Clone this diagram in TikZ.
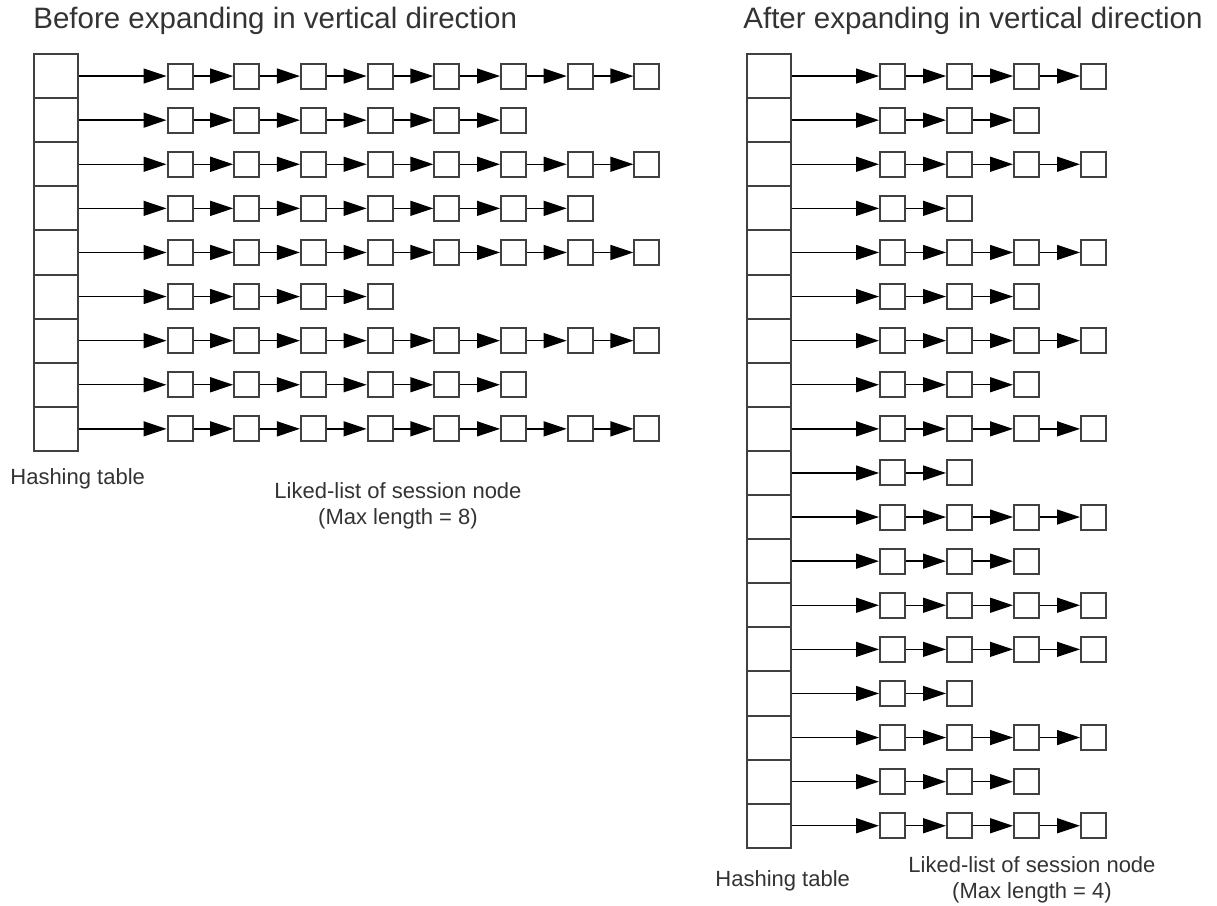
\documentclass[tikz,border=0pt]{standalone}
\usepackage{fontspec}
\setmainfont{Liberation Sans}
\usetikzlibrary{arrows.meta}

\tikzset{
  cell/.style={draw=black!75, line width=1pt, minimum width=22pt, minimum height=22.05pt, inner sep=0pt},
  session/.style={draw=black!75, line width=1pt, fill=white, minimum size=12.5pt, inner sep=0pt},
  link/.style={line width=0.7pt, -{Triangle[length=11.5pt,width=7.5pt]}},
  title/.style={anchor=base west, inner sep=0pt, text=black!80, font=\fontsize{14.75}{17}\selectfont},
  caption/.style={inner sep=0pt, text=black!80, align=center, font=\fontsize{11}{13}\selectfont},
}

\begin{document}
\begin{tikzpicture}[x=0.5pt,y=-0.5pt]
          \useasboundingbox (0,0) rectangle (1217,906);
          \node[title] (before) at (33,28) {Before expanding in vertical direction};
          \node[title] (after) at (743,28) {After expanding in vertical direction};
          % before: 9 buckets, lists up to 8 nodes
          \foreach \n [count=\r] in {8,6,8,7,8,4,8,6,8} {
            \node[cell] (B\r) at (56,{54+44.1*(\r-0.5)}) {};
            \foreach \k in {1,...,\n}
              \node[session] (B\r-\k) at ({180+66.7*(\k-1)},{54+44.1*(\r-0.5)}) {};
            \draw[link] (B\r.east) -- (B\r-1);
            \foreach \k [evaluate=\k as \j using int(\k-1)] in {2,...,\n}
              \draw[link] (B\r-\j) -- (B\r-\k);
          }
          % after: 18 buckets, lists up to 4 nodes
          \foreach \n [count=\r] in {4,3,4,2,4,3,4,3,4,2,4,3,4,4,2,4,3,4} {
            \node[cell] (A\r) at (769,{54+44.1*(\r-0.5)}) {};
            \foreach \k in {1,...,\n}
              \node[session] (A\r-\k) at ({892.5+67*(\k-1)},{54+44.1*(\r-0.5)}) {};
            \draw[link] (A\r.east) -- (A\r-1);
            \foreach \k [evaluate=\k as \j using int(\k-1)] in {2,...,\n}
              \draw[link] (A\r-\j) -- (A\r-\k);
          }
          % captions (base anchor sits on the last line)
          \node[caption,anchor=base west] (Bhash) at (10,484) {Hashing table};
          \node[caption,anchor=base] (Blist) at (398,524) {Liked-list of session node\\(Max length = 8)};
          \node[caption,anchor=base west] (Ahash) at (715,886) {Hashing table};
          \node[caption,anchor=base] (Alist) at (1032,898) {Liked-list of session node\\(Max length = 4)};
        \end{tikzpicture}
\end{document}
